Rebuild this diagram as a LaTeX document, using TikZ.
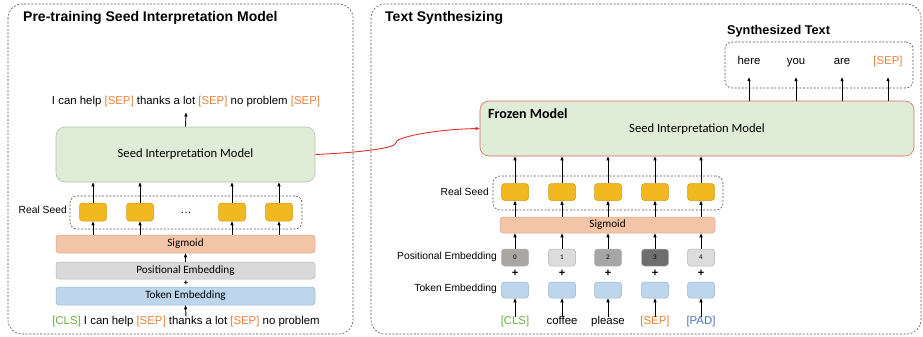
\documentclass[tikz,border=0pt]{standalone}
\usepackage{fontspec}
\usepackage{xcolor}
\setmainfont{Liberation Sans}
\newfontfamily\calibri{Carlito}
\usetikzlibrary{arrows.meta}
\definecolor{modelgreen}{HTML}{DFEDD8}
\definecolor{modelline}{HTML}{B3C2AB}
\definecolor{frozenred}{HTML}{E2675A}
\definecolor{curvered}{HTML}{E3302A}
\definecolor{seedyellow}{HTML}{F1B81F}
\definecolor{seedline}{HTML}{D29C1A}
\definecolor{sigfill}{HTML}{F2C5A8}
\definecolor{sigline}{HTML}{DBA98C}
\definecolor{posfill}{HTML}{D9D9D9}
\definecolor{posline}{HTML}{B2B2B2}
\definecolor{tokfill}{HTML}{BDD6EC}
\definecolor{tokline}{HTML}{9BB4CB}
\definecolor{pos0}{HTML}{AAA6A4}
\definecolor{pos1}{HTML}{DCDCDC}
\definecolor{pos2}{HTML}{A6A6A6}
\definecolor{pos3}{HTML}{6E6E6E}
\definecolor{pos4}{HTML}{DCDCDC}
\definecolor{sepc}{HTML}{E8823D}
\definecolor{clsc}{HTML}{6FAC46}
\definecolor{padc}{HTML}{4472C4}
\definecolor{dashgrey}{HTML}{555555}
\newcommand{\sepTok}{\textcolor{sepc}{[SEP]}}
\newcommand{\clsTok}{\textcolor{clsc}{[CLS]}}
\newcommand{\padTok}{\textcolor{padc}{[PAD]}}
\newcommand{\txtfont}{\fontsize{11.4}{13}\selectfont}
\newcommand{\smallfont}{\fontsize{10.3}{12}\selectfont}
\newcommand{\boxfont}{\calibri\fontsize{11.2}{13}\selectfont}
\newcommand{\modelfont}{\calibri\fontsize{12.6}{14}\selectfont}
\newcommand{\titlefont}{\bfseries\fontsize{14}{16}\selectfont}
\tikzstyle{panel} = [draw=dashgrey, dash pattern=on 2pt off 1.6pt,
rounded corners=14pt, line width=0.6pt]
\tikzstyle{seedgroup} = [draw=dashgrey, dash pattern=on 2pt off 1.6pt,
rounded corners=7pt, line width=0.6pt, inner sep=0pt]
\tikzstyle{layer} = [rectangle, rounded corners=3pt, line width=0.5pt,
inner sep=0pt, font=\boxfont]
\tikzstyle{seed} = [layer, fill=seedyellow, draw=seedline,
minimum width=27pt, minimum height=17pt]
\tikzstyle{sig} = [layer, fill=sigfill, draw=sigline]
\tikzstyle{posbox} = [layer, fill=posfill, draw=posline]
\tikzstyle{tok} = [layer, fill=tokfill, draw=tokline]
\tikzstyle{model} = [rectangle, rounded corners=9pt, fill=modelgreen,
line width=0.6pt, inner sep=0pt, font=\modelfont]
\tikzstyle{txt} = [inner sep=0pt, font=\txtfont, text height=8.2pt, text depth=2.4pt]
\tikzstyle{plus} = [inner sep=0pt, font=\bfseries\fontsize{11}{12}\selectfont]
\tikzstyle{arr} = [-{Triangle[length=4pt,width=3pt]}, line width=0.9pt]

\begin{document}
\begin{tikzpicture}[x=1pt, y=-1pt]
    \useasboundingbox (0,0) rectangle (923,337);
    % pre-training
    \draw[panel] (8,4) rectangle (353,334);
    \node[anchor=west, inner sep=0pt, font=\titlefont] (pretitle) at (23,18)
        {Pre-training Seed Interpretation Model};
    \node[model, draw=modelline, minimum width=259pt, minimum height=55pt]
        (lmodel) at (185.5,154.5) {Seed Interpretation Model};
    \node[txt, inner ysep=5pt] (lout) at (186,102)
        {I can help \sepTok{} thanks a lot \sepTok{} no problem \sepTok};
    \node[seedgroup, minimum width=232pt, minimum height=33pt] (lgroup)
        at (186,212.5) {};
    \node[txt, anchor=east, font=\smallfont] (lseedlbl) at (67,211) {Real Seed};
    \foreach \i/\x in {1/93,2/140,3/232,4/279}
        \node[seed, minimum height=18pt] (ls\i) at (\x,212) {};
    \node[txt] (ldots) at (186,211) {…};
    \node[sig, minimum width=259pt, minimum height=18pt] (lsig)
        at (185.5,244) {Sigmoid};
    \node[posbox, minimum width=259pt, minimum height=17pt] (lpos)
        at (185.5,270.5) {Positional Embedding};
    \node[plus, font=\bfseries\fontsize{8}{9}\selectfont] (lplus) at (186,283) {+};
    \node[tok, minimum width=259pt, minimum height=18pt] (ltok)
        at (185.5,296) {Token Embedding};
    \node[txt] (lin) at (186,322)
        {\clsTok{} I can help \sepTok{} thanks a lot \sepTok{} no problem};
    \draw[arr] (lmodel.north) -- (lout.south);
    \foreach \i in {1,...,4} {
        \draw[arr] (ls\i.south |- lsig.north) -- (ls\i.south);
        \draw[arr] (ls\i.north) -- (ls\i.north |- lmodel.south);
    }
    \draw[arr] (lpos.north) -- (lsig.south);
    \draw[arr] (lin.north) -- (ltok.south);

    % text synthesizing
    \draw[panel] (371,4) rectangle (921,334);
    \node[anchor=west, inner sep=0pt, font=\titlefont] (syntitle) at (385,18)
        {Text Synthesizing};
    \node[model, draw=frozenred, minimum width=434pt, minimum height=55pt]
        (rmodel) at (697,128.5) {};
    \node[anchor=west, inner sep=0pt, font=\calibri\bfseries\fontsize{14}{16}\selectfont]
        (frozen) at (488,114) {Frozen Model};
    \node[inner sep=0pt, font=\modelfont] (rname) at (697,129)
        {Seed Interpretation Model};
    \node[seedgroup, minimum width=188pt, minimum height=46pt] (outgroup)
        at (819,65) {};
    \node[anchor=west, inner sep=0pt, font=\bfseries\fontsize{12.7}{15}\selectfont]
        (outtitle) at (727,31) {Synthesized Text};
    \foreach \i/\x/\w in {1/749/here,2/796/you,3/842/are,4/888/\sepTok} {
        \node[txt, minimum height=30pt] (w\i) at (\x,62) {\w};
        \draw[arr] (w\i.south |- rmodel.north) -- (w\i.south);
    }
    \node[seedgroup, minimum width=230pt, minimum height=34pt] (rgroup)
        at (608,193) {};
    \node[txt, anchor=east, font=\smallfont] (rseedlbl) at (489,193) {Real Seed};
    \node[sig, minimum width=215pt, minimum height=16pt] (rsig)
        at (607.5,225) {Sigmoid};
    \node[txt, anchor=east, font=\smallfont] (rposlbl) at (497,257)
        {Positional Embedding};
    \node[txt, anchor=east, font=\smallfont] (rtoklbl) at (497,289)
        {Token Embedding};
    \foreach \i/\x/\w in {1/515/\clsTok,2/562/coffee,3/608/please,4/655/\sepTok,5/701/\padTok} {
        \pgfmathtruncatemacro\n{\i-1}
        \node[seed] (rs\i) at (\x,192) {};
        \node[posbox, fill=pos\n, minimum width=27pt, minimum height=17pt,
            font=\calibri\fontsize{7}{8}\selectfont] (rp\i) at (\x,257.5) {\n};
        \node[plus] (rplus\i) at (\x,273) {+};
        \node[tok, minimum width=27pt, minimum height=16pt] (rt\i) at (\x,290) {};
        \node[txt] (rin\i) at (\x,322) {\w};
        \draw[arr] (rin\i.north) -- (rt\i.south);
        \draw[arr] (rp\i.north) -- (rp\i.north |- rsig.south);
        \draw[arr] (rs\i.south |- rsig.north) -- (rs\i.south);
        \draw[arr] (rs\i.north) -- (rs\i.north |- rmodel.south);
    }

    % frozen copy
    \draw[-{Triangle[length=4pt,width=3.2pt]}, draw=curvered, line width=0.9pt]
        (lmodel.east) .. controls (350,153) and (380,150) .. (392,146)
        .. controls (397,144.5) and (395,141) .. (399,139.5)
        .. controls (415,133) and (450,129) .. (rmodel.west);
\end{tikzpicture}
\end{document}
